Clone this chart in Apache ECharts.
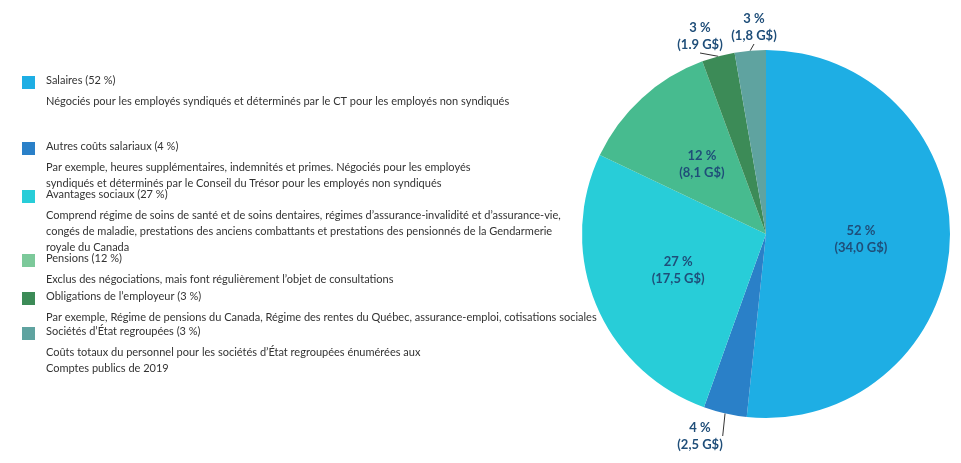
<!DOCTYPE html><html><head><meta charset="utf-8"><script src="https://cdn.jsdelivr.net/npm/echarts@6/dist/echarts.min.js"></script></head><body style="margin:0"><div id="c" style="width:961px;height:463px"></div><script>
const categories=["Salaires (52 %)","Autres coûts salariaux (4 %)","Avantages sociaux (27 %)","Pensions (12 %)","Obligations de l’employeur (3 %)","Sociétés d’État regroupées (3 %)"];
const values=[34.0,2.5,17.5,8.1,1.9,1.8];
const pctLabels=["52 %","4 %","27 %","12 %","3 %","3 %"];
const amtLabels=["(34,0 G$)","(2,5 G$)","(17,5 G$)","(8,1 G$)","(1.9 G$)","(1,8 G$)"];
const descriptions=[
["Négociés pour les employés syndiqués et déterminés par le CT pour les employés non syndiqués"],
["Par exemple, heures supplémentaires, indemnités et primes. Négociés pour les employés","syndiqués et déterminés par le Conseil du Trésor pour les employés non syndiqués"],
["Comprend régime de soins de santé et de soins dentaires, régimes d’assurance-invalidité et d’assurance-vie,","congés de maladie, prestations des anciens combattants et prestations des pensionnés de la Gendarmerie","royale du Canada"],
["Exclus des négociations, mais font régulièrement l’objet de consultations"],
["Par exemple, Régime de pensions du Canada, Régime des rentes du Québec, assurance-emploi, cotisations sociales"],
["Coûts totaux du personnel pour les sociétés d’État regroupées énumérées aux","Comptes publics de 2019"]];
const colors=["#1eaee4","#2a80c8","#28cdd8","#47bb8f","#3c8b57","#5fa3a0"];
const legendColors=["#1eaee4","#2a80c8","#28cdd8","#7cc99a","#3c8b57","#5fa3a0"];
const tops=[82,148,196,260,298,333];
const g=[];
categories.forEach((c,i)=>{
 g.push({type:'rect',shape:{x:22,y:tops[i]-6,width:13,height:13},style:{fill:legendColors[i]}});
 g.push({type:'text',x:46,y:tops[i]-7,style:{text:c,font:'11px Lato',fill:'#333'}});
 g.push({type:'text',x:46,y:tops[i]+11,style:{text:descriptions[i].join('\n'),font:'11px Lato',fill:'#333',lineHeight:16}});
});
const inside=[0,2,3];
const data=values.map((v,i)=>{
 const o={value:v,name:categories[i],itemStyle:{color:colors[i]}};
 if(inside.includes(i)){o.label={position:'inside'};o.labelLine={show:false};}
 return o;});
const ch=echarts.init(document.getElementById('c'));
ch.setOption({animation:false,graphic:g,series:[{type:'pie',center:[766,234],radius:[0,184],startAngle:90,clockwise:true,data,
 label:{formatter:p=>pctLabels[p.dataIndex]+'\n'+amtLabels[p.dataIndex],color:'#1f4e79',fontWeight:'bold',fontSize:13,fontFamily:'Lato',lineHeight:17,align:'center'},
 labelLine:{show:true,length:6,length2:0,lineStyle:{color:'#333',width:1}},
 labelLayout:function(p){const pos={1:[700,436],4:[700,36],5:[754,27]};const q=pos[p.dataIndex];return q?{x:q[0],y:q[1],align:'center',verticalAlign:'middle'}:{};}
}]});
</script></body></html>
